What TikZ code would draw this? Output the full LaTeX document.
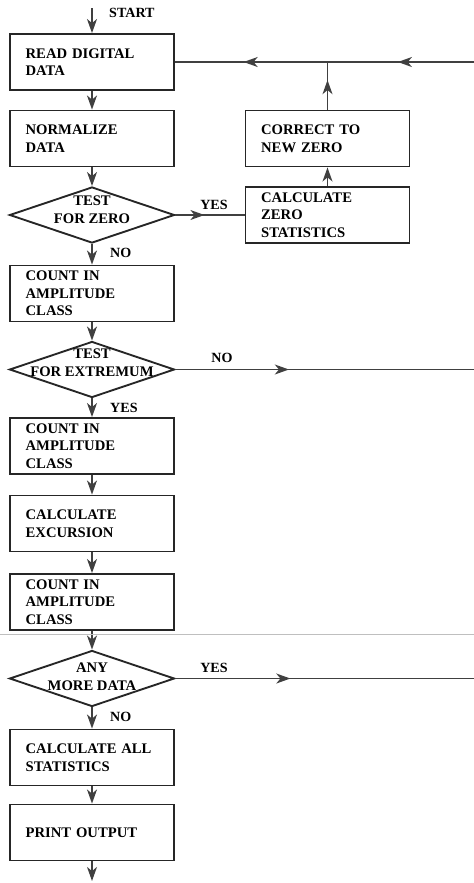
\documentclass[tikz,border=0pt]{standalone}
\usepackage{fontspec}
\setmainfont{Liberation Serif}
\usetikzlibrary{arrows.meta, decorations.markings, shapes.geometric}

\begin{document}
\begin{tikzpicture}[x=0.03cm, y=-0.03cm,
    every node/.style={font=\fontsize{12.5}{15}\selectfont\bfseries, inner sep=0pt},
    box/.style={draw=black!85, line width=1.6pt, minimum width=4.92cm, minimum height=1.68cm,
        text width=3.98cm, inner xsep=0.47cm, align=left},
    decision/.style={draw=black!85, line width=1.6pt, shape=diamond, minimum width=4.95cm, minimum height=1.68cm},
    dtext/.style={align=center},
    tag/.style={font=\fontsize{12}{14}\selectfont\bfseries},
    flow/.style={draw=black!75, line width=1.3pt, -{Stealth[length=12pt, width=8.5pt, inset=3.5pt]}},
    line/.style={draw=black!75, line width=1.3pt},
    mid arrow/.style={line, postaction={decorate},
        decoration={markings, mark=at position #1 with {\arrow{Stealth[length=12pt, width=8.5pt, inset=3.5pt]}}}}
]

    \useasboundingbox (0,0) rectangle (474,883);

    % =====================================================
    % Main column
    % =====================================================
    \coordinate (top) at (92,8);
    \node[tag, anchor=west] (start) at (109,13) {START};

    \node[box] (read)  at (92,62)    {READ DIGITAL\\DATA};
    \node[box] (norm)  at (92,138.5) {NORMALIZE\\DATA};

    \node[decision] (tz) at (92,215) {};
    \node[dtext] (tzt) at (92,210) {TEST\\FOR ZERO};

    \node[box] (cnt1)  at (92,293.5) {COUNT IN\\AMPLITUDE\\CLASS};

    \node[decision] (te) at (92,369.5) {};
    \node[dtext] (tet) at (92,363) {TEST\\FOR EXTREMUM};

    \node[box] (cnt2)  at (92,446)   {COUNT IN\\AMPLITUDE\\CLASS};
    \node[box] (exc)   at (92,523.5) {CALCULATE\\EXCURSION};
    \node[box] (cnt3)  at (92,602)   {COUNT IN\\AMPLITUDE\\CLASS};

    \node[decision] (amd) at (92,678.5) {};
    \node[dtext] (amdt) at (92,677) {ANY\\MORE DATA};

    \node[box] (calc)  at (92,757.5) {CALCULATE ALL\\STATISTICS};
    \node[box] (print) at (92,832.5) {PRINT OUTPUT};
    \coordinate (end) at (92,881);

    % =====================================================
    % Zero correction branch
    % =====================================================
    \node[box] (zstat) at (327.5,215)   {CALCULATE\\ZERO\\STATISTICS};
    \node[box] (corr)  at (327.5,138.5) {CORRECT TO\\NEW ZERO};

    \coordinate (fbin)   at (474,62);
    \coordinate (fbj)    at (327.5,62);
    \coordinate (noout)  at (474,369.5);
    \coordinate (yesout) at (474,678.5);

    % =====================================================
    % Connectors
    % =====================================================
    \draw[flow] (top) -- (read);
    \draw[flow] (read) -- (norm);
    \draw[flow] (norm) -- (tz);
    \draw[flow] (tz) -- (cnt1);
    \draw[flow] (cnt1) -- (te);
    \draw[flow] (te) -- (cnt2);
    \draw[flow] (cnt2) -- (exc);
    \draw[flow] (exc) -- (cnt3);
    \draw[flow] (cnt3) -- (amd);
    \draw[flow] (amd) -- (calc);
    \draw[flow] (calc) -- (print);
    \draw[flow] (print) -- (end);

    \draw[mid arrow=0.42] (tz) -- (zstat);
    \draw[flow] (zstat) -- (corr);
    \draw[mid arrow=0.62] (corr) -- (fbj);
    \draw[mid arrow=0.52] (fbin) -- (fbj);
    \draw[mid arrow=0.55] (fbj) -- (read);

    \draw[mid arrow=0.38] (te) -- (noout);
    \draw[mid arrow=0.385] (amd) -- (yesout);

    % labels
    \node[tag] (tzyes) at (214,205) {YES};
    \node[tag, anchor=west] (tzno) at (110,253) {NO};
    \node[tag] (teno) at (222,358) {NO};
    \node[tag, anchor=west] (teyes) at (110,408) {YES};
    \node[tag] (amdyes) at (214,668) {YES};
    \node[tag, anchor=west] (amdno) at (110,717) {NO};

    % page seam
    \draw[black!25, line width=0.6pt] (0,634) -- (474,634);

\end{tikzpicture}
\end{document}
